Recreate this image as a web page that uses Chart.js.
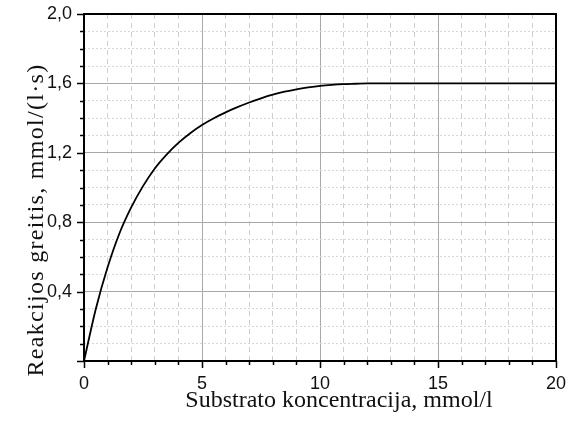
<!DOCTYPE html>
<html>
<head>
<meta charset="utf-8">
<script src="https://cdn.jsdelivr.net/npm/chart.js@4/dist/chart.umd.min.js"></script>
<style>
  html, body { margin: 0; padding: 0; background: #fff; }
  #wrap { width: 566px; height: 421px; }
</style>
</head>
<body>
<div id="wrap"><canvas id="c" width="566" height="421"></canvas></div>
<script>
// Data
const concentration = [0, 0.5, 1, 1.5, 2, 2.5, 3, 3.5, 4, 4.5, 5, 5.5, 6, 6.5, 7, 7.5, 8, 8.5, 9, 9.5, 10, 10.5, 11, 11.5, 12, 13, 14, 15, 16, 17, 18, 19, 20];
const rate =          [0, 0.30, 0.54, 0.735, 0.885, 1.008, 1.11, 1.19, 1.257, 1.313, 1.36, 1.399, 1.433, 1.463, 1.49, 1.514, 1.535, 1.552, 1.566, 1.577, 1.586, 1.592, 1.596, 1.598, 1.60, 1.60, 1.60, 1.60, 1.60, 1.60, 1.60, 1.60, 1.60];
const xMajorLabels = ['0', '5', '10', '15', '20'];
const yMajorLabels = ['0,4', '0,8', '1,2', '1,6', '2,0'];
const xTitle = 'Substrato koncentracija, mmol/l';
const yTitle = 'Reakcijos greitis, mmol/(l·s)';

const points = concentration.map((x, i) => ({ x: x, y: rate[i] }));

function xIsMajor(v) { return Math.round(v) % 5 === 0; }
function yIsMajor(v) { return Math.round(v * 10) % 4 === 0; }

const frameAndTicks = {
  id: 'frameAndTicks',
  afterDatasetsDraw(chart) {
    const ctx = chart.ctx;
    const a = chart.chartArea;
    const xs = chart.scales.x, ys = chart.scales.y;
    ctx.save();
    ctx.strokeStyle = '#000';
    ctx.lineWidth = 1.5;
    ctx.beginPath();
    xs.ticks.forEach((t, i) => {
      const px = Math.round(xs.getPixelForTick(i)) + 0.5;
      const len = xIsMajor(t.value) ? 7 : 4;
      ctx.moveTo(px, a.bottom);
      ctx.lineTo(px, a.bottom + len);
    });
    ys.ticks.forEach((t, i) => {
      const py = Math.round(ys.getPixelForTick(i)) + 0.5;
      const len = yIsMajor(t.value) ? 7 : 4;
      ctx.moveTo(a.left, py);
      ctx.lineTo(a.left - len, py);
    });
    ctx.stroke();
    ctx.lineWidth = 2;
    ctx.strokeRect(a.left, a.top, a.right - a.left, a.bottom - a.top);
    ctx.restore();
  },
  afterDraw(chart) {
    const ctx = chart.ctx;
    ctx.save();
    ctx.fillStyle = '#111';
    ctx.font = '24px "Liberation Serif", "Times New Roman", serif';
    ctx.textAlign = 'center';
    ctx.textBaseline = 'alphabetic';
    ctx.fillText(xTitle, 339, 407);
    ctx.translate(43, 220);
    ctx.rotate(-Math.PI / 2);
    ctx.letterSpacing = '1.3px';
    ctx.fillText(yTitle, 0, 0);
    ctx.restore();
  }
};

new Chart(document.getElementById('c'), {
  type: 'line',
  data: {
    datasets: [{
      data: points,
      borderColor: '#000',
      borderWidth: 1.8,
      pointRadius: 0,
      fill: false,
      cubicInterpolationMode: 'monotone'
    }]
  },
  options: {
    responsive: false,
    animation: false,
    layout: { padding: { left: 0, top: 14, right: 10, bottom: 0 } },
    plugins: { legend: { display: false }, tooltip: { enabled: false } },
    scales: {
      x: {
        type: 'linear',
        min: 0, max: 20,
        afterFit(s) { s.height = 60; s.paddingLeft = 0; s.paddingRight = 0; },
        border: { display: false, dash: (c) => (c.tick && xIsMajor(c.tick.value)) ? [] : [5, 4] },
        grid: {
          drawTicks: false,
          lineWidth: 1,
          color: (c) => (c.tick && xIsMajor(c.tick.value)) ? '#a8a8a8' : '#cfcfcf'
        },
        ticks: {
          stepSize: 1,
          padding: 12,
          maxRotation: 0,
          autoSkip: false,
          color: '#111',
          font: { family: '"Liberation Sans", Arial, sans-serif', size: 18 },
          callback: (v) => xIsMajor(v) ? xMajorLabels[Math.round(v) / 5] : ''
        }
      },
      y: {
        type: 'linear',
        min: 0, max: 2.0,
        afterFit(s) { s.width = 84; s.paddingTop = 0; s.paddingBottom = 0; },
        border: { display: false, dash: (c) => (c.tick && yIsMajor(c.tick.value)) ? [] : [2, 2] },
        grid: {
          drawTicks: false,
          lineWidth: 1,
          color: (c) => (c.tick && yIsMajor(c.tick.value)) ? '#a8a8a8' : '#d6d6d6'
        },
        ticks: {
          stepSize: 0.1,
          padding: 12,
          autoSkip: false,
          color: '#111',
          font: { family: '"Liberation Sans", Arial, sans-serif', size: 18 },
          callback: (v) => {
            const k = Math.round(v * 10);
            return (k > 0 && k % 4 === 0) ? yMajorLabels[k / 4 - 1] : '';
          }
        }
      }
    }
  },
  plugins: [frameAndTicks]
});
</script>
</body>
</html>
